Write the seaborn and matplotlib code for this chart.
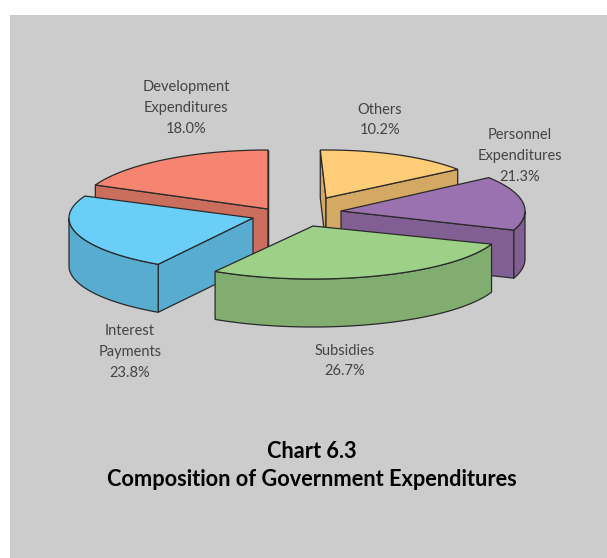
import numpy as np
import matplotlib
matplotlib.use("Agg")
import matplotlib.pyplot as plt
from matplotlib.patches import Polygon, Rectangle
import seaborn as sns

# clockwise from 12 o'clock, same order as the labels
categories = ["Others", "Personnel\nExpenditures", "Subsidies", "Interest\nPayments", "Development\nExpenditures"]
shares = [10.2, 21.3, 26.7, 23.8, 18.0]
top_colors = ["#FFCC77", "#9B72B0", "#9DD187", "#69CFF9", "#F58570"]

# the original's 3d projection is not quite true, these nudge the slice boundaries (degrees)
boundary_nudge = [2, -16.7, 3.4, -1.5, 1.2, 0]

CENTER = (300, 215)
EXPLODE = [(26, -17), (41, -4), (13, 11), (-47, 3), (-32, -6)]
RADII = [(164, 48), (184, 56), (190, 53), (184, 54), (189, 59)]
DEPTH = 48
DRAW_ORDER = [4, 0, 1, 3, 2]
LABEL_POS = [(380, 120), (520, 156), (345, 361), (130, 352), (186, 108)]
EDGE = "#2a2a2a"
SHADE = 0.83

sns.set_theme(style="white")
plt.rcParams["font.family"] = ["Lato", "DejaVu Sans"]


def outer_arc(apex, radii, a0, a1):
    t = np.radians(np.linspace(a0, a1, 120))
    return np.column_stack([apex[0] + radii[0] * np.cos(t), apex[1] - radii[1] * np.sin(t)])


def draw_slice(ax, apex, radii, a0, a1, color):
    # a0 > a1, clockwise. only walls facing the viewer get drawn, then the top face
    side = tuple(c * SHADE for c in color)
    arc = outer_arc(apex, radii, a0, a1)
    down = np.array([0, DEPTH])
    apex = np.array(apex)
    cut_walls = []
    if np.cos(np.radians(a0)) < 0:
        cut_walls.append(arc[0])
    if np.cos(np.radians(a1)) > -1e-6:
        cut_walls.append(arc[-1])
    for end in cut_walls:
        wall = np.array([apex, end, end + down, apex + down])
        ax.add_patch(Polygon(wall, closed=True, fc=side, ec=EDGE, lw=0.9))
    sin_a = np.sin(np.radians(np.linspace(a0, a1, 120)))
    front = arc[sin_a <= 0]
    if len(front) > 1:
        wall = np.vstack([front, (front + down)[::-1]])
        ax.add_patch(Polygon(wall, closed=True, fc=side, ec=EDGE, lw=0.9))
    ax.add_patch(Polygon(np.vstack([apex, arc]), closed=True, fc=color, ec=EDGE, lw=0.9))


fig = plt.figure(figsize=(6.07, 5.58), dpi=100)
ax = fig.add_axes([0, 0, 1, 1])
ax.set_xlim(0, 607)
ax.set_ylim(558, 0)
ax.axis("off")
ax.add_patch(Rectangle((10, 15), 597, 543, fc="#CCCCCC", ec="none"))

palette = sns.color_palette(top_colors)
edges = 90 - np.cumsum([0] + shares) * 3.6 + np.array(boundary_nudge)
for i in DRAW_ORDER:
    apex = (CENTER[0] + EXPLODE[i][0], CENTER[1] + EXPLODE[i][1])
    draw_slice(ax, apex, RADII[i], edges[i], edges[i + 1], palette[i])

for cat, share, pos in zip(categories, shares, LABEL_POS):
    ax.text(pos[0], pos[1], f"{cat}\n{share:.1f}%", ha="center", va="center",
            fontsize=10.5, color="#444444", linespacing=1.6)

ax.text(312, 451, "Chart 6.3", ha="center", va="center", fontsize=15.7, fontweight="bold", color="black")
ax.text(312, 480, "Composition of Government Expenditures", ha="center", va="center",
        fontsize=15.7, fontweight="bold", color="black")

fig.savefig("out.png", dpi=100)
